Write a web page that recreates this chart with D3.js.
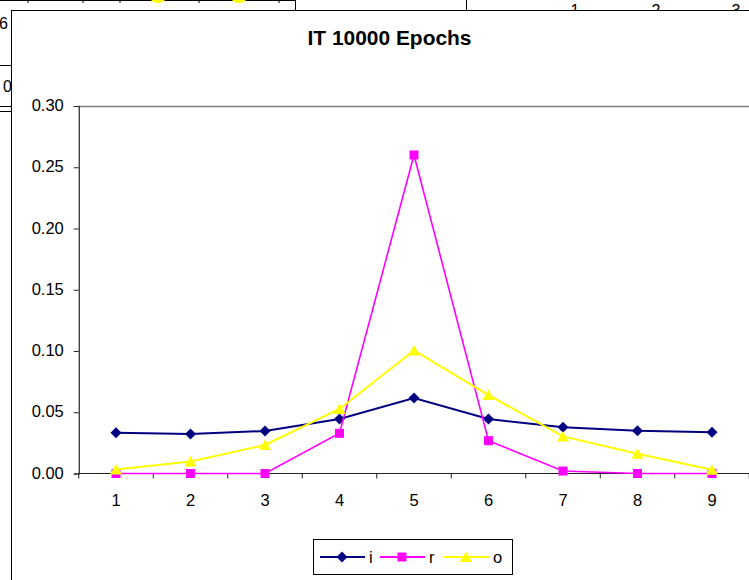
<!DOCTYPE html>
<html>
<head>
<meta charset="utf-8">
<script src="https://cdn.jsdelivr.net/npm/d3@7"></script>
<style>
  html, body { margin: 0; padding: 0; background: #ffffff; }
  svg { display: block; }
  text { font-family: "Liberation Sans", Arial, sans-serif; }
</style>
</head>
<body>
<svg id="chart" width="749" height="580"></svg>
<script>
// Epoch categories along the x axis
const categories = ["1", "2", "3", "4", "5", "6", "7", "8", "9"];

// Series values after 10000 epochs
const seriesI = [0.0333, 0.0322, 0.0347, 0.0445, 0.0616, 0.0445, 0.0377, 0.0349, 0.0336];
const seriesR = [0.0000, 0.0000, 0.0000, 0.0328, 0.2600, 0.0268, 0.0020, 0.0000, 0.0000];
const seriesO = [0.0032, 0.0098, 0.0233, 0.0527, 0.1005, 0.0640, 0.0303, 0.0162, 0.0030];

// Y axis tick labels
const yTicks = [0.00, 0.05, 0.10, 0.15, 0.20, 0.25, 0.30];

const seriesNames = ["i", "r", "o"];
const seriesColors = ["#000080", "#FF00FF", "#FFFF00"];
const seriesMarkers = ["diamond", "square", "triangle"];
const seriesData = [seriesI, seriesR, seriesO];

const svg = d3.select("#chart");

// ---- worksheet content peeking out behind the chart object ----
const back = svg.append("g").attr("class", "sheet");
[28, 83, 120, 199, 279].forEach(x => {
  back.append("line").attr("x1", x).attr("x2", x).attr("y1", 0).attr("y2", 3)
    .attr("stroke", "#000");
});
back.append("line").attr("x1", 0).attr("x2", 296).attr("y1", 0.5).attr("y2", 0.5)
  .attr("stroke", "#000").attr("stroke-width", 1);
[[158, 0], [239, 0]].forEach(([x, y]) => {
  back.append("ellipse").attr("cx", x).attr("cy", y - 1).attr("rx", 7).attr("ry", 4)
    .attr("fill", "#FFFF00");
});
back.append("line").attr("x1", 295.5).attr("x2", 295.5).attr("y1", 0).attr("y2", 10)
  .attr("stroke", "#000");
back.append("line").attr("x1", 466.5).attr("x2", 466.5).attr("y1", 0).attr("y2", 10)
  .attr("stroke", "#000");
[["1", 575], ["2", 656], ["3", 736]].forEach(([t, x]) => {
  back.append("text").attr("x", x).attr("y", 16).attr("text-anchor", "middle")
    .attr("font-size", 16).attr("fill", "#000").text(t);
});
back.append("text").attr("x", 8).attr("y", 29).attr("text-anchor", "end")
  .attr("font-size", 16).attr("fill", "#000").text("6");
back.append("line").attr("x1", 0).attr("x2", 11).attr("y1", 65.5).attr("y2", 65.5)
  .attr("stroke", "#000");
back.append("text").attr("x", 3).attr("y", 92).attr("font-size", 16).attr("fill", "#000").text("0");
back.append("line").attr("x1", 0).attr("x2", 11).attr("y1", 106.5).attr("y2", 106.5)
  .attr("stroke", "#000");
back.append("line").attr("x1", 0).attr("x2", 11).attr("y1", 111.5).attr("y2", 111.5)
  .attr("stroke", "#000");

// ---- chart object ----
const chart = svg.append("g").attr("class", "chart-area");
chart.append("rect")
  .attr("x", 11.5).attr("y", 10.5).attr("width", 760).attr("height", 600)
  .attr("fill", "#ffffff").attr("stroke", "#000000").attr("stroke-width", 1);

chart.append("text")
  .attr("x", 389.5).attr("y", 45)
  .attr("text-anchor", "middle")
  .attr("font-size", 20.5).attr("font-weight", "bold").attr("fill", "#000")
  .attr("textLength", 164).attr("lengthAdjust", "spacingAndGlyphs")
  .text("IT 10000 Epochs");

const plot = { left: 78.75, right: 749.25, top: 106, bottom: 473.5 };

const x = d3.scaleBand().domain(categories).range([plot.left, plot.right]).padding(0);
const y = d3.scaleLinear().domain([0, 0.30]).range([plot.bottom, plot.top]);
const cx = c => x(c) + x.bandwidth() / 2;

// plot area border (top edge visible)
chart.append("line")
  .attr("x1", plot.left).attr("x2", plot.right)
  .attr("y1", Math.round(plot.top) + 0.5).attr("y2", Math.round(plot.top) + 0.5)
  .attr("stroke", "#808080").attr("stroke-width", 1.5);

// y axis
const yAxis = d3.axisLeft(y).tickValues(yTicks).tickFormat(d3.format(".2f"))
  .tickSize(5).tickPadding(10);
const yG = chart.append("g").attr("transform", `translate(${plot.left},0)`).call(yAxis);
yG.select(".domain").attr("stroke", "#222").attr("stroke-width", 1.2);
yG.selectAll(".tick line").attr("stroke", "#222");
yG.selectAll(".tick text").attr("font-size", 16.5).attr("fill", "#000")
  .attr("font-family", "Liberation Sans, Arial, sans-serif").attr("dy", "0.28em");

// x axis: ticks at category boundaries, labels centered in bands
const xG = chart.append("g").attr("transform", `translate(0,${plot.bottom})`);
xG.append("line").attr("x1", plot.left).attr("x2", plot.right).attr("y1", 0).attr("y2", 0)
  .attr("stroke", "#222").attr("stroke-width", 1.2);
const boundaries = categories.map(c => x(c)).concat([plot.right]);
xG.selectAll("line.tick").data(boundaries).join("line").attr("class", "tick")
  .attr("x1", d => d).attr("x2", d => d).attr("y1", 0).attr("y2", 5)
  .attr("stroke", "#222");
xG.selectAll("text").data(categories).join("text")
  .attr("x", d => cx(d)).attr("y", 32)
  .attr("text-anchor", "middle").attr("font-size", 16.5).attr("fill", "#000")
  .text(d => d);

// marker shapes
function markerPath(kind) {
  if (kind === "diamond") return "M0,-5.5L5.5,0L0,5.5L-5.5,0Z";
  if (kind === "square") return "M-4.5,-4.5H4.5V4.5H-4.5Z";
  return "M0,-5.5L6,5L-6,5Z";
}

const line = d3.line().x(d => cx(d.c)).y(d => y(d.v));

seriesData.forEach((vals, si) => {
  const pts = categories.map((c, i) => ({ c, v: vals[i] }));
  const g = chart.append("g").attr("class", "series-" + seriesNames[si]);
  g.append("path").datum(pts)
    .attr("d", line).attr("fill", "none")
    .attr("stroke", seriesColors[si]).attr("stroke-width", si === 1 ? 1.6 : 2);
  g.selectAll("path.marker").data(pts).join("path").attr("class", "marker")
    .attr("transform", d => `translate(${cx(d.c)},${y(d.v)})`)
    .attr("d", markerPath(seriesMarkers[si]))
    .attr("fill", seriesColors[si]);
});

// legend
const legend = chart.append("g").attr("class", "legend");
legend.append("rect")
  .attr("x", 313.5).attr("y", 539.5).attr("width", 199).attr("height", 35)
  .attr("fill", "#fff").attr("stroke", "#000").attr("stroke-width", 1);
const legendX = [320, 380, 444];
seriesNames.forEach((name, si) => {
  const lx = legendX[si];
  const ly = 557;
  legend.append("line").attr("x1", lx).attr("x2", lx + 45).attr("y1", ly).attr("y2", ly)
    .attr("stroke", seriesColors[si]).attr("stroke-width", 2);
  legend.append("path").attr("transform", `translate(${lx + 22},${ly})`)
    .attr("d", markerPath(seriesMarkers[si])).attr("fill", seriesColors[si]);
  legend.append("text").attr("x", lx + 49).attr("y", ly + 6)
    .attr("font-size", 16.5).attr("fill", "#000").text(name);
});
</script>
</body>
</html>
